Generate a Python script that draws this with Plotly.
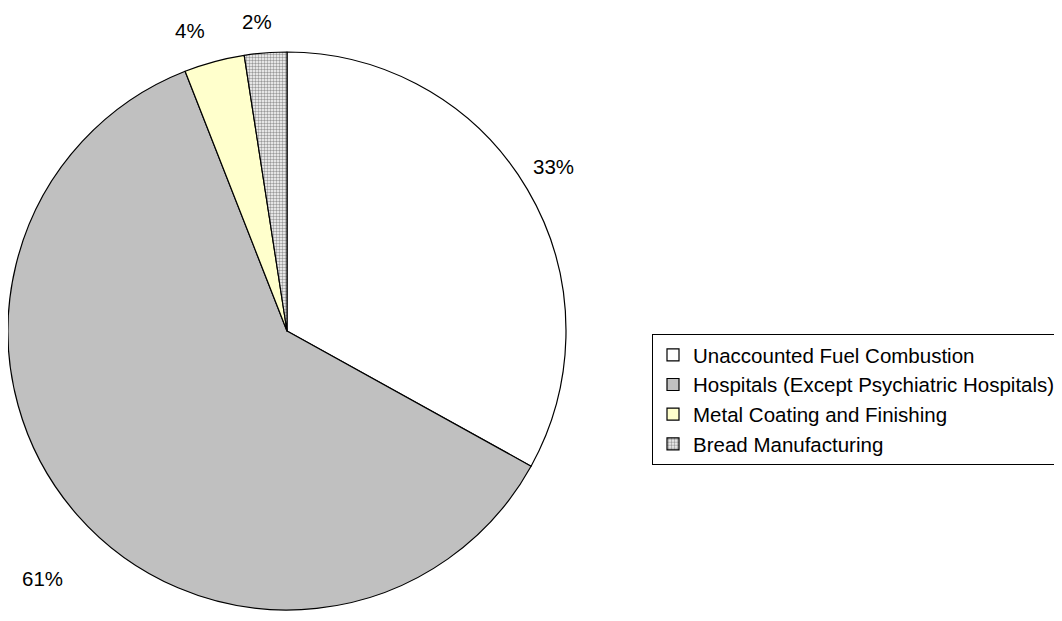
import plotly.graph_objects as go

categories = ["Unaccounted Fuel Combustion",
              "Hospitals (Except Psychiatric Hospitals)",
              "Metal Coating and Finishing",
              "Bread Manufacturing"]
values = [33.05, 61.0, 3.5, 2.45]
pct_labels = ["33%", "61%", "4%", "2%"]
colors = ["#FFFFFF", "#C0C0C0", "#FFFFCC", "#FFFFFF"]

# page has an 8px body margin: figure is drawn at page offset (8, 8)
OFF = 8
W, H = 1062 - OFF, 621 - OFF
cx, cy, r = 287 - OFF, 331 - OFF, 279
FONT = "Arial, Liberation Sans, sans-serif"
FS = 20.5

fig = go.Figure(go.Pie(
    labels=categories,
    values=values,
    sort=False,
    direction="clockwise",
    rotation=0,
    textinfo="none",
    hoverinfo="label+percent",
    marker=dict(
        colors=colors,
        line=dict(color="black", width=1.2),
        pattern=dict(shape=["", "", "", "."], fgcolor="#9a9a9a",
                     bgcolor="#FFFFFF", size=3, solidity=0.5,
                     fillmode="replace"),
    ),
    domain=dict(x=[max(0, (cx - r) / W), (cx + r) / W],
                y=[1 - (cy + r) / H, 1 - (cy - r) / H]),
))

# percentage label centre positions (page pixels)
label_px = [(553, 167), (42, 578), (190, 30), (257, 21)]
for txt, (px, py) in zip(pct_labels, label_px):
    fig.add_annotation(x=(px - OFF) / W, y=1 - (py - OFF) / H,
                       xref="paper", yref="paper",
                       xanchor="center", yanchor="middle",
                       text=txt, showarrow=False,
                       font=dict(family=FONT, size=FS, color="black"))

leg_x, leg_y = 652 - OFF, 334 - OFF
fig.update_layout(
    width=W, height=H,
    margin=dict(l=0, r=0, t=0, b=0),
    paper_bgcolor="white",
    plot_bgcolor="white",
    font=dict(family=FONT, size=FS, color="black"),
    legend=dict(x=leg_x / W, xanchor="left", y=1 - leg_y / H, yanchor="top",
                bordercolor="black", borderwidth=1, bgcolor="white",
                font=dict(family=FONT, size=FS, color="black"),
                tracegroupgap=0),
)

fig.write_html("out.html")
